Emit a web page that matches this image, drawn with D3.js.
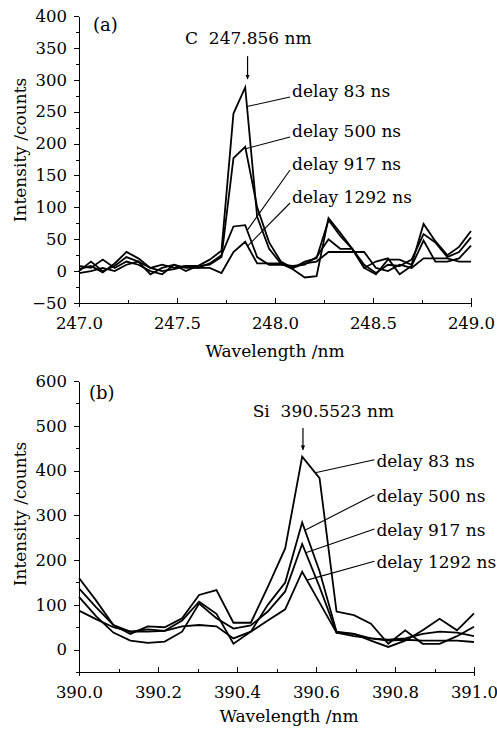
<!DOCTYPE html>
<html>
<head>
<meta charset="UTF-8">
<title>LIBS spectra - delay</title>
<script src="https://d3js.org/d3.v7.min.js"></script>
<style>
    body { margin: 0; background: #fff; }
    svg { display: block; font-family: "DejaVu Serif", serif; }
    .axis path, .axis line { stroke: #000; stroke-width: 1px; shape-rendering: crispEdges; }
    .axis text { font-size: 16.5px; fill: #000; font-family: "DejaVu Serif", serif; }
    .spec { fill: none; stroke: #000; stroke-width: 1.8px; stroke-linejoin: miter; }
    .lead { stroke: #000; stroke-width: 1.1px; }
    .lbl { font-size: 17px; fill: #000; white-space: pre; }
</style>
</head>
<body>
<div id="chart"></div>
<script>
    var delayLabels = ["delay 83 ns", "delay 500 ns", "delay 917 ns", "delay 1292 ns"];

    // (a) C 247.856 nm
    var wlC = [247.000, 247.061, 247.121, 247.182, 247.242, 247.303, 247.364, 247.424, 247.485, 247.545,
        247.606, 247.667, 247.727, 247.788, 247.848, 247.909, 247.970, 248.030, 248.091, 248.152,
        248.212, 248.273, 248.333, 248.394, 248.455, 248.515, 248.576, 248.636, 248.697, 248.758,
        248.818, 248.879, 248.939, 249.000];
    var cDelay83 = [3, 8, -2, 12, 30, 20, 5, 10, 5, 8, 8, 18, 32, 247, 288, 85, 35, 12, 3, -10,
        -8, 83, 60, 35, 5, -5, 18, 18, 10, 74, 47, 25, 38, 63];
    var cDelay500 = [0, 15, 0, 8, 22, 15, -5, 5, 10, 0, 8, 10, 22, 177, 195, 100, 45, 15, 5, 15,
        20, 80, 55, 35, 10, -3, 10, 8, 18, 58, 45, 22, 30, 53];
    var cDelay917 = [8, 5, 18, 5, 15, 10, 0, -5, 10, 5, 5, 12, 25, 70, 72, 22, 10, 10, 8, 10,
        22, 50, 35, 35, 5, 15, 20, -5, 8, 48, 15, 15, 20, 40];
    var cDelay1292 = [-3, 0, 5, 0, 10, 15, 5, 0, 3, 8, 5, 5, -3, 30, 46, 12, 12, 12, 5, 12,
        15, 30, 30, 30, 30, 5, 0, 10, 5, 20, 20, 20, 15, 15];

    // (b) Si 390.5523 nm
    var wlSi = [390.000, 390.043, 390.087, 390.130, 390.174, 390.217, 390.261, 390.304, 390.348, 390.391,
        390.435, 390.478, 390.522, 390.565, 390.609, 390.652, 390.696, 390.739, 390.783, 390.826,
        390.870, 390.913, 390.957, 391.000];
    var siDelay83 = [160, 110, 55, 35, 52, 50, 70, 122, 133, 60, 60, 140, 226, 431, 383, 85, 77, 58, 13, 43, 13, 13, 30, 51];
    var siDelay500 = [137, 95, 55, 40, 45, 42, 65, 107, 80, 13, 40, 100, 150, 284, 175, 40, 35, 25, 22, 25, 35, 40, 38, 30];
    var siDelay917 = [118, 75, 38, 20, 15, 18, 40, 103, 70, 47, 54, 85, 130, 236, 140, 38, 35, 20, 6, 20, 43, 69, 43, 81];
    var siDelay1292 = [87, 68, 50, 40, 40, 42, 52, 55, 52, 25, 40, 65, 90, 174, 105, 38, 30, 25, 20, 22, 20, 20, 20, 17];

    // ticks
    var xTicksC = [247.0, 247.5, 248.0, 248.5, 249.0];
    var xMinorC = [247.25, 247.75, 248.25, 248.75];
    var yTicksC = [-50, 0, 50, 100, 150, 200, 250, 300, 350, 400];
    var yMinorC = [-25, 25, 75, 125, 175, 225, 275, 325, 375];
    var xTicksSi = [390.0, 390.2, 390.4, 390.6, 390.8, 391.0];
    var xMinorSi = [390.1, 390.3, 390.5, 390.7, 390.9];
    var yTicksSi = [0, 100, 200, 300, 400, 500, 600];
    var yMinorSi = [-50, 50, 150, 250, 350, 450, 550];

    var svg = d3.select("#chart").append("svg")
        .attr("width", 497)
        .attr("height", 733);

    svg.append("defs").append("marker")
        .attr("id", "arrow")
        .attr("viewBox", "0 0 10 10")
        .attr("refX", 10).attr("refY", 5)
        .attr("markerWidth", 4.5).attr("markerHeight", 8)
        .attr("markerUnits", "userSpaceOnUse")
        .attr("orient", "auto")
        .append("path")
        .attr("d", "M0,0 L10,5 L0,10 z")
        .attr("fill", "#000");

    var panels = [
        {
            tag: "(a)", tagPos: [93, 31],
            xDomain: [247, 249], yDomain: [-50, 400],
            left: 79, right: 471, top: 16, bottom: 303,
            xTicks: xTicksC, xMinor: xMinorC, yTicks: yTicksC, yMinor: yMinorC,
            wl: wlC, series: [cDelay83, cDelay500, cDelay917, cDelay1292],
            peakText: "C  247.856 nm", peakTextAt: [247.541, 356],
            arrow: [247.86, 337, 301],
            labelX: 248.087, labelY: [273, 210.3, 158.5, 106.8],
            hits: [247.857, 247.850, 247.858, 247.860], leadDy: 0,
            yTitleY: 150, xTitle: [275, 357]
        },
        {
            tag: "(b)", tagPos: [89, 399],
            xDomain: [390, 391], yDomain: [-50, 600],
            left: 79, right: 474, top: 381, bottom: 672,
            xTicks: xTicksSi, xMinor: xMinorSi, yTicks: yTicksSi, yMinor: yMinorSi,
            wl: wlSi, series: [siDelay83, siDelay500, siDelay917, siDelay1292],
            peakText: "Si  390.5523 nm", peakTextAt: [390.4397, 519.6],
            arrow: [390.567, 495, 446],
            labelX: 390.753, labelY: [408.6, 330.4, 253.8, 181.6],
            hits: [390.598, 390.572, 390.574, 390.577], leadDy: -7,
            yTitleY: 514, xTitle: [289, 722]
        }
    ];

    // linear interpolation on a series, used to put the leader tip on the curve
    function valueAt(wl, vals, w) {
        var i = d3.bisectRight(wl, w);
        if (i <= 0) return vals[0];
        if (i >= wl.length) return vals[vals.length - 1];
        var t = (w - wl[i - 1]) / (wl[i] - wl[i - 1]);
        return vals[i - 1] + t * (vals[i] - vals[i - 1]);
    }

    panels.forEach(function (p) {
        var x = d3.scaleLinear().domain(p.xDomain).range([p.left, p.right]);
        var y = d3.scaleLinear().domain(p.yDomain).range([p.bottom, p.top]);
        var g = svg.append("g");

        // minor ticks
        g.append("g").attr("class", "axis")
            .attr("transform", "translate(0," + p.bottom + ")")
            .call(d3.axisBottom(x).tickValues(p.xMinor).tickSize(-3).tickSizeOuter(0).tickFormat(""))
            .select(".domain").remove();
        g.append("g").attr("class", "axis")
            .attr("transform", "translate(" + p.left + ",0)")
            .call(d3.axisLeft(y).tickValues(p.yMinor).tickSize(3).tickSizeOuter(0).tickFormat(""))
            .select(".domain").remove();

        // major axes
        g.append("g").attr("class", "axis")
            .attr("transform", "translate(0," + p.bottom + ")")
            .call(d3.axisBottom(x).tickValues(p.xTicks).tickSize(-5).tickSizeOuter(4)
                .tickPadding(14).tickFormat(d3.format(".1f")));
        g.append("g").attr("class", "axis")
            .attr("transform", "translate(" + p.left + ",0)")
            .call(d3.axisLeft(y).tickValues(p.yTicks).tickSize(5).tickSizeOuter(0)
                .tickPadding(7).tickFormat(function (d) { return d < 0 ? "\u2212" + Math.abs(d) : d; }));

        // spectra
        var line = d3.line()
            .x(function (d, i) { return x(p.wl[i]); })
            .y(function (d) { return y(d); });
        g.selectAll(".spec")
            .data(p.series)
            .enter()
            .append("path")
            .attr("class", "spec")
            .attr("d", line);

        // leaders + delay labels
        p.series.forEach(function (vals, k) {
            var tx = x(p.labelX), ty = y(p.labelY[k]);
            g.append("line")
                .attr("class", "lead")
                .attr("x1", tx - 2)
                .attr("y1", ty + p.leadDy)
                .attr("x2", x(p.hits[k]))
                .attr("y2", y(valueAt(p.wl, vals, p.hits[k])));
            g.append("text")
                .attr("class", "lbl")
                .attr("x", tx)
                .attr("y", ty)
                .text(delayLabels[k]);
        });

        // peak marker
        g.append("text")
            .attr("class", "lbl")
            .attr("x", x(p.peakTextAt[0]))
            .attr("y", y(p.peakTextAt[1]))
            .text(p.peakText);
        g.append("line")
            .attr("x1", x(p.arrow[0])).attr("y1", y(p.arrow[1]))
            .attr("x2", x(p.arrow[0])).attr("y2", y(p.arrow[2]))
            .attr("stroke", "#000").attr("stroke-width", 1.2)
            .attr("marker-end", "url(#arrow)");

        // panel tag
        g.append("text")
            .attr("class", "lbl")
            .attr("x", p.tagPos[0])
            .attr("y", p.tagPos[1])
            .style("font-size", "18px")
            .text(p.tag);

        // axis titles
        g.append("text")
            .attr("class", "lbl")
            .attr("text-anchor", "middle")
            .attr("transform", "translate(26," + p.yTitleY + ") rotate(-90)")
            .text("Intensity /counts");
        g.append("text")
            .attr("class", "lbl")
            .attr("text-anchor", "middle")
            .attr("x", p.xTitle[0])
            .attr("y", p.xTitle[1])
            .text("Wavelength /nm");
    });
</script>
</body>
</html>
